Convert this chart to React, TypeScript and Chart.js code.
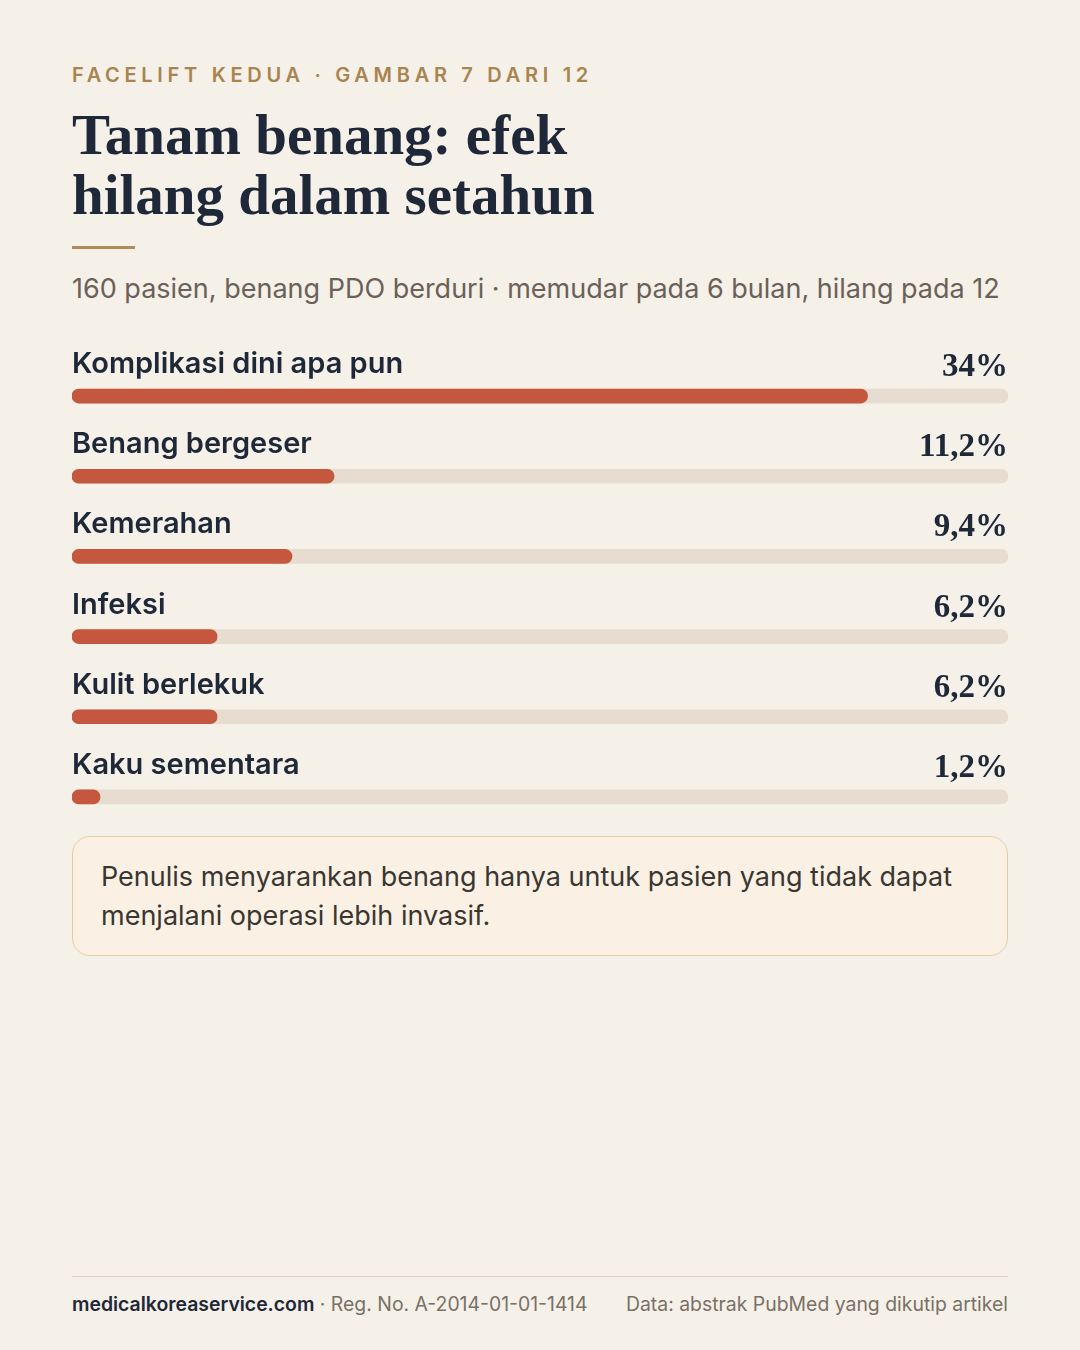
import { useEffect, useRef } from "react";
import { Chart, registerables } from "chart.js";

Chart.register(...registerables);

const categories = [
  "Komplikasi dini apa pun",
  "Benang bergeser",
  "Kemerahan",
  "Infeksi",
  "Kulit berlekuk",
  "Kaku sementara",
];
const rates = [34, 11.2, 9.4, 6.2, 6.2, 1.2];
const valueLabels = ["34%", "11,2%", "9,4%", "6,2%", "6,2%", "1,2%"];
const SCALE_MAX = 40;

const BG = "#f5f0e8";
const NAVY = "#1e2838";
const GOLD = "#a8844f";
const BAR = "#c4573e";
const TRACK = "#e6ddd0";

const SANS = "Inter, 'Noto Sans', sans-serif";
const SERIF = "'Liberation Serif', 'DejaVu Serif', serif";

// draws the row label above each bar and the value at the right edge
const rowLabels = {
  id: "rowLabels",
  afterDatasetsDraw(chart: Chart) {
    const { ctx, chartArea } = chart;
    const meta = chart.getDatasetMeta(0);
    ctx.save();
    meta.data.forEach((bar: any, i: number) => {
      const y = bar.y;
      ctx.fillStyle = NAVY;
      ctx.textBaseline = "alphabetic";
      ctx.textAlign = "left";
      ctx.font = `600 29px ${SANS}`;
      ctx.fillText(categories[i], chartArea.left, y - 23);
      ctx.textAlign = "right";
      ctx.font = `bold 33px ${SERIF}`;
      ctx.fillText(valueLabels[i], chartArea.right, y - 20);
    });
    ctx.restore();
  },
};

const BarsChart = () => {
  const canvasRef = useRef<HTMLCanvasElement | null>(null);
  const chartRef = useRef<Chart | null>(null);

  useEffect(() => {
    if (!canvasRef.current) return;
    if (chartRef.current) chartRef.current.destroy();

    chartRef.current = new Chart(canvasRef.current, {
      type: "bar",
      data: {
        labels: categories,
        datasets: [
          {
            data: rates,
            backgroundColor: BAR,
            borderRadius: 7,
            borderSkipped: false,
            barThickness: 14,
            grouped: false,
            order: 0,
          },
          {
            data: categories.map(() => SCALE_MAX),
            backgroundColor: TRACK,
            borderRadius: 7,
            borderSkipped: false,
            barThickness: 14,
            grouped: false,
            order: 1,
          },
        ],
      },
      options: {
        indexAxis: "y",
        animation: false,
        responsive: true,
        maintainAspectRatio: false,
        layout: { padding: { top: 40, bottom: 3, left: 0, right: 0 } },
        plugins: {
          legend: { display: false },
          tooltip: { enabled: false },
        },
        scales: {
          x: { min: 0, max: SCALE_MAX, display: false },
          y: { display: false },
        },
      },
      plugins: [rowLabels],
    });

    return () => {
      if (chartRef.current) {
        chartRef.current.destroy();
        chartRef.current = null;
      }
    };
  }, []);

  return (
    <div style={{ position: "absolute", left: 72, top: 316, width: 936, height: 524 }}>
      <canvas ref={canvasRef} />
    </div>
  );
};

export default function App() {
  useEffect(() => {
    document.body.style.margin = "0";
    document.body.style.background = BG;
  }, []);

  return (
    <div
      style={{
        position: "absolute",
        left: 0,
        top: 0,
        width: 1080,
        height: 1350,
        background: BG,
        fontFamily: SANS,
        overflow: "hidden",
      }}
    >
      <div
        style={{
          position: "absolute",
          left: 72,
          top: 63,
          fontSize: 20,
          lineHeight: "24px",
          fontWeight: 600,
          letterSpacing: "4.7px",
          color: GOLD,
          whiteSpace: "nowrap",
        }}
      >
        FACELIFT KEDUA · GAMBAR 7 DARI 12
      </div>
      <div
        style={{
          position: "absolute",
          left: 72,
          top: 105,
          fontFamily: SERIF,
          fontWeight: 700,
          fontSize: 57,
          lineHeight: "60px",
          color: NAVY,
          whiteSpace: "nowrap",
        }}
      >
        Tanam benang: efek
        <br />
        hilang dalam setahun
      </div>
      <div style={{ position: "absolute", left: 72, top: 246, width: 63, height: 3, background: "#b08d57" }} />
      <div
        style={{
          position: "absolute",
          left: 72,
          top: 273,
          fontSize: 27,
          lineHeight: "32px",
          color: "#6b6158",
          whiteSpace: "nowrap",
        }}
      >
        160 pasien, benang PDO berduri · memudar pada 6 bulan, hilang pada 12
      </div>

      <BarsChart />

      <div
        style={{
          position: "absolute",
          left: 72,
          top: 836,
          width: 936,
          height: 120,
          boxSizing: "border-box",
          border: "1px solid #e3cda6",
          borderRadius: 18,
          background: "#faf1e4",
          padding: "20px 28px",
          fontSize: 27,
          lineHeight: "39px",
          color: "#3a3632",
        }}
      >
        Penulis menyarankan benang hanya untuk pasien yang tidak dapat menjalani operasi lebih invasif.
      </div>

      <div style={{ position: "absolute", left: 72, top: 1276, width: 936, height: 1, background: "#ddd5c8" }} />
      <div
        style={{
          position: "absolute",
          left: 72,
          top: 1292,
          fontSize: 19.4,
          lineHeight: "24px",
          color: "#7a7068",
          whiteSpace: "nowrap",
        }}
      >
        <span style={{ color: NAVY, fontWeight: 600 }}>medicalkoreaservice.com</span> · Reg. No. A-2014-01-01-1414
      </div>
      <div
        style={{
          position: "absolute",
          right: 72,
          top: 1292,
          fontSize: 19.4,
          lineHeight: "24px",
          color: "#7a7068",
          whiteSpace: "nowrap",
          textAlign: "right",
        }}
      >
        Data: abstrak PubMed yang dikutip artikel
      </div>
    </div>
  );
}
